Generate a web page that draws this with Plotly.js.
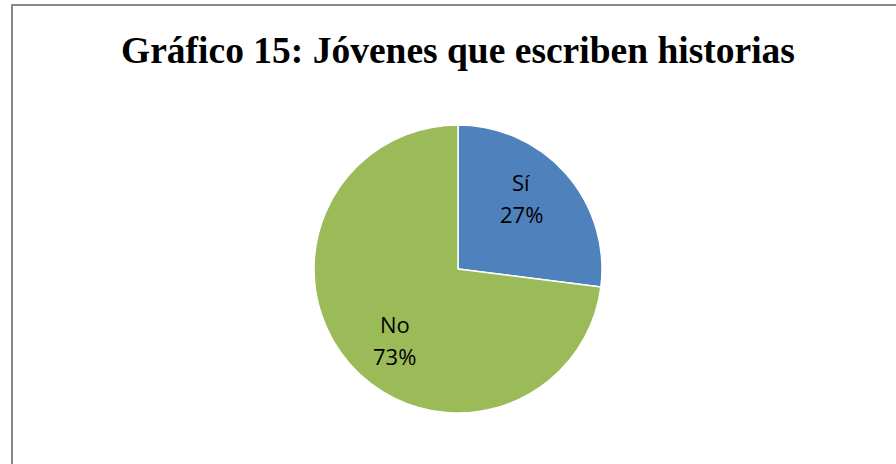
<!DOCTYPE html>
<html>
<head>
<meta charset="utf-8">
<script src="https://cdn.plot.ly/plotly-3.0.1.min.js"></script>
<style>
  body { margin: 0; padding: 0; background: #fff; }
  #chart { width: 896px; height: 464px; }
</style>
</head>
<body>
<div id="chart"></div>
<script>
// Datos del gráfico
var categorias = ['Sí', 'No'];
var valores = [27, 73];
var colores = ['#4F81BD', '#9BBB59'];

var chartDiv = document.getElementById('chart');

function drawPie(plotDiv) {
  // pie placement in pixels (margins are zero, so paper = pixels)
  var W = 896, H = 464;
  var cx = 458, cy = 269, R = 144;

  var data = [{
    type: 'pie',
    labels: categorias,
    values: valores,
    sort: false,
    direction: 'clockwise',
    rotation: 0,
    textinfo: 'none',
    hoverinfo: 'label+percent',
    marker: {
      colors: colores,
      line: { color: '#ffffff', width: 1.5 }
    },
    domain: {
      x: [(cx - R) / W, (cx + R) / W],
      y: [1 - (cy + R) / H, 1 - (cy - R) / H]
    }
  }];

  // data labels, placed inside each slice from its share of the total
  var total = valores.reduce(function (a, b) { return a + b; }, 0);
  var annotations = [];
  var acc = 0;
  for (var i = 0; i < valores.length; i++) {
    var mid = (acc + valores[i] / 2) / total * 360 - 7;
    acc += valores[i];
    var rad = mid * Math.PI / 180;
    var px = cx + 0.66 * R * Math.sin(rad);
    var py = cy - 0.66 * R * Math.cos(rad);
    var lines = [categorias[i], Math.round(valores[i] / total * 100) + '%'];
    for (var j = 0; j < lines.length; j++) {
      annotations.push({
        xref: 'paper',
        yref: 'paper',
        x: px / W,
        y: 1 - py / H,
        xanchor: 'center',
        yanchor: 'middle',
        yshift: j === 0 ? 16 : -16,
        text: lines[j],
        showarrow: false,
        font: {
          family: 'Open Sans, Liberation Sans, sans-serif',
          size: 22,
          color: '#000000'
        }
      });
    }
  }

  var layout = {
    width: W,
    height: H,
    showlegend: false,
    margin: { l: 0, r: 0, t: 0, b: 0 },
    paper_bgcolor: '#ffffff',
    title: {
      text: '<b>Gráfico 15: Jóvenes que escriben historias</b>',
      x: 458 / W,
      xanchor: 'center',
      y: 1 - 50 / H,
      yanchor: 'middle',
      font: {
        family: 'Liberation Serif, Times New Roman, serif',
        size: 37.5,
        color: '#000000'
      }
    },
    annotations: annotations,
    shapes: [{
      type: 'rect',
      xref: 'paper',
      yref: 'paper',
      x0: 12 / W,
      x1: 1.2,
      y0: -0.2,
      y1: 1 - 5 / H,
      line: { color: '#878787', width: 2 }
    }]
  };

  Plotly.newPlot(plotDiv, data, layout, { displayModeBar: false });
}

drawPie(chartDiv);
</script>
</body>
</html>
